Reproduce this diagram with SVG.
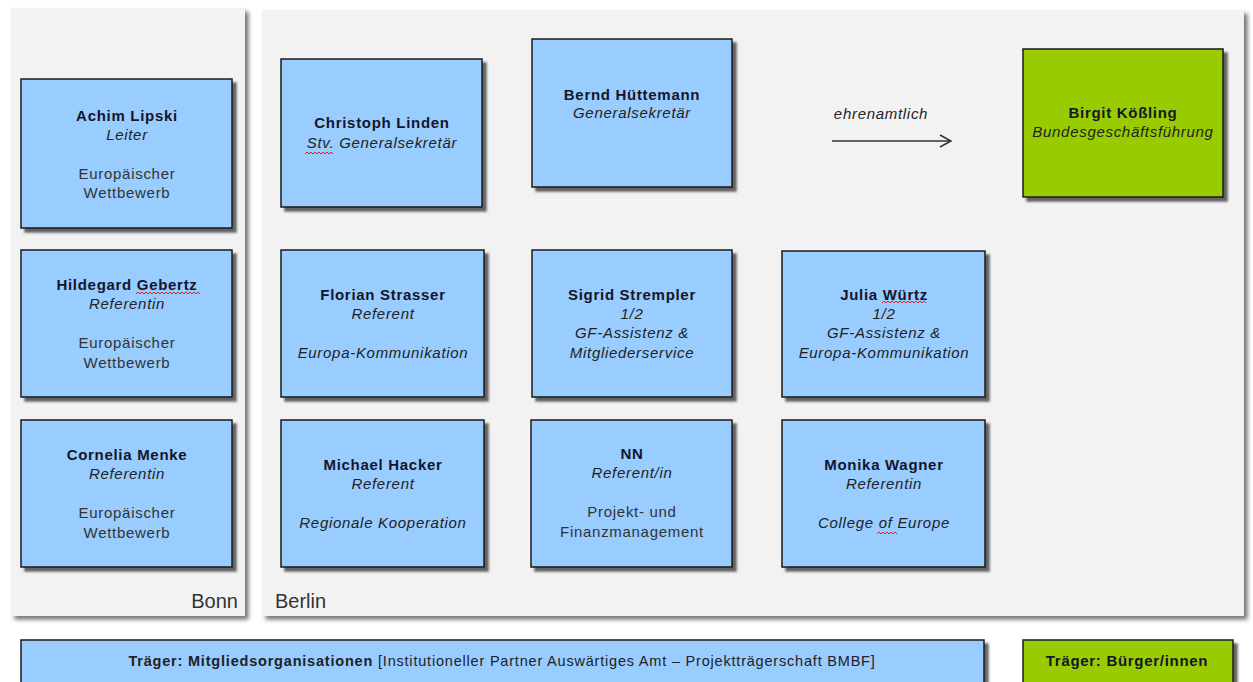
<svg xmlns="http://www.w3.org/2000/svg" width="1253" height="682" viewBox="0 0 1253 682">
<defs>
<filter id="psh" x="-5%" y="-5%" width="110%" height="110%"><feDropShadow dx="3.5" dy="3.5" stdDeviation="2" flood-color="#000" flood-opacity="0.55"/></filter>
<filter id="bsh" x="-10%" y="-10%" width="120%" height="120%"><feDropShadow dx="4" dy="4" stdDeviation="1.3" flood-color="#333" flood-opacity="0.75"/></filter>
<marker id="arr" markerWidth="14" markerHeight="14" refX="12" refY="7" orient="auto" markerUnits="userSpaceOnUse"><path d="M1,1 L12,7 L1,13" fill="none" stroke="#333" stroke-width="1.5"/></marker>
</defs>
<style>
text{font-family:"Liberation Sans",Arial,sans-serif;font-size:15px;letter-spacing:0.7px;text-anchor:middle}
.n{font-weight:bold;fill:#15152a}
.i{font-style:italic;fill:#222}
.r{fill:#333}
.blue{fill:#99ccff;stroke:#1a1a1a;stroke-width:1.5}
.green{fill:#99cc00;stroke:#1a1a1a;stroke-width:1.5}
.panel{fill:#f2f2f2}
.loc{font-size:20px;letter-spacing:0;fill:#333}
.wave{fill:none;stroke:#e02020;stroke-width:1}
</style>
<rect width="1253" height="682" fill="#fff"/>
<g id="panel-bonn"><rect class="panel" x="11" y="8" width="234" height="608" filter="url(#psh)"/><text class="loc" x="238" y="608" style="text-anchor:end">Bonn</text></g>
<g id="panel-berlin"><rect class="panel" x="262" y="10" width="982" height="606" filter="url(#psh)"/><text class="loc" x="275" y="608" style="text-anchor:start">Berlin</text></g>

<g id="achim"><rect class="blue" x="21" y="79" width="211" height="149" filter="url(#bsh)"/>
<text class="n" x="127" y="121">Achim Lipski</text><text class="i" x="127" y="140">Leiter</text>
<text class="r" x="127" y="179">Europäischer</text><text class="r" x="127" y="198">Wettbewerb</text></g>
<g id="hildegard"><rect class="blue" x="21" y="250" width="211" height="147" filter="url(#bsh)"/>
<text class="n" x="127" y="290">Hildegard Gebertz</text><text class="i" x="127" y="309">Referentin</text>
<text class="r" x="127" y="348">Europäischer</text><text class="r" x="127" y="368">Wettbewerb</text>
<path class="wave" d="M136,294 l2,-2 l2,2 l2,-2 l2,2 l2,-2 l2,2 l2,-2 l2,2 l2,-2 l2,2 l2,-2 l2,2 l2,-2 l2,2 l2,-2 l2,2 l2,-2 l2,2 l2,-2 l2,2 l2,-2 l2,2 l2,-2 l2,2 l2,-2 l2,2 l2,-2 l2,2 l2,-2 l2,2 l2,-2 l2,2"/></g>
<g id="cornelia"><rect class="blue" x="21" y="420" width="211" height="147" filter="url(#bsh)"/>
<text class="n" x="127" y="460">Cornelia Menke</text><text class="i" x="127" y="479">Referentin</text>
<text class="r" x="127" y="518">Europäischer</text><text class="r" x="127" y="538">Wettbewerb</text></g>

<g id="christoph"><rect class="blue" x="281" y="59" width="201" height="148" filter="url(#bsh)"/>
<text class="n" x="382" y="128">Christoph Linden</text><text class="i" x="382" y="148">Stv. Generalsekretär</text>
<path class="wave" d="M305,154 l2,-2 l2,2 l2,-2 l2,2 l2,-2 l2,2 l2,-2 l2,2 l2,-2 l2,2 l2,-2 l2,2 l2,-2 l2,2"/></g>
<g id="bernd"><rect class="blue" x="532" y="39" width="200" height="148" filter="url(#bsh)"/>
<text class="n" x="632" y="100">Bernd Hüttemann</text><text class="i" x="632" y="118">Generalsekretär</text></g>
<g id="birgit"><rect class="green" x="1023" y="49" width="200" height="148" filter="url(#bsh)"/>
<text class="n" x="1123" y="118">Birgit Kößling</text><text class="i" x="1123" y="137">Bundesgeschäftsführung</text></g>

<g id="florian"><rect class="blue" x="281" y="250" width="203" height="147" filter="url(#bsh)"/>
<text class="n" x="383" y="300">Florian Strasser</text><text class="i" x="383" y="319">Referent</text>
<text class="i" x="383" y="358">Europa-Kommunikation</text></g>
<g id="sigrid"><rect class="blue" x="532" y="250" width="200" height="147" filter="url(#bsh)"/>
<text class="n" x="632" y="300">Sigrid Strempler</text><text class="i" x="632" y="319">1/2</text>
<text class="i" x="632" y="338">GF-Assistenz &amp;</text><text class="i" x="632" y="358">Mitgliederservice</text></g>
<g id="julia"><rect class="blue" x="782" y="251" width="203" height="146" filter="url(#bsh)"/>
<text class="n" x="884" y="300">Julia Würtz</text><text class="i" x="884" y="319">1/2</text>
<text class="i" x="884" y="338">GF-Assistenz &amp;</text><text class="i" x="884" y="358">Europa-Kommunikation</text>
<path class="wave" d="M882,303 l2,-2 l2,2 l2,-2 l2,2 l2,-2 l2,2 l2,-2 l2,2 l2,-2 l2,2 l2,-2 l2,2 l2,-2 l2,2 l2,-2 l2,2 l2,-2 l2,2 l2,-2 l2,2 l2,-2 l2,2"/></g>

<g id="michael"><rect class="blue" x="281" y="420" width="203" height="147" filter="url(#bsh)"/>
<text class="n" x="383" y="470">Michael Hacker</text><text class="i" x="383" y="489">Referent</text>
<text class="i" x="383" y="528">Regionale Kooperation</text></g>
<g id="nn"><rect class="blue" x="531" y="420" width="201" height="147" filter="url(#bsh)"/>
<text class="n" x="632" y="459">NN</text><text class="i" x="632" y="478">Referent/in</text>
<text class="r" x="632" y="517">Projekt- und</text><text class="r" x="632" y="537">Finanzmanagement</text></g>
<g id="monika"><rect class="blue" x="782" y="420" width="203" height="147" filter="url(#bsh)"/>
<text class="n" x="884" y="470">Monika Wagner</text><text class="i" x="884" y="489">Referentin</text>
<text class="i" x="884" y="528">College of Europe</text>
<path class="wave" d="M877,534 l2,-2 l2,2 l2,-2 l2,2 l2,-2 l2,2 l2,-2 l2,2 l2,-2 l2,2"/></g>

<g id="connectors">
<line x1="832" y1="141" x2="951" y2="141" stroke="#333" stroke-width="1.5" marker-end="url(#arr)"/>
<text class="i" x="881" y="119">ehrenamtlich</text>
</g>

<g id="traeger-mitglieder"><rect class="blue" x="21" y="640" width="963" height="52" filter="url(#bsh)"/>
<text x="502" y="666" style="font-size:14.5px;letter-spacing:0.8px;fill:#222"><tspan font-weight="bold">Träger: Mitgliedsorganisationen</tspan> [Institutioneller Partner Auswärtiges Amt – Projektträgerschaft  BMBF]</text></g>
<g id="traeger-buerger"><rect class="green" x="1023" y="640" width="210" height="52" filter="url(#bsh)"/>
<text class="n" x="1127" y="666">Träger: Bürger/innen</text></g>
</svg>
